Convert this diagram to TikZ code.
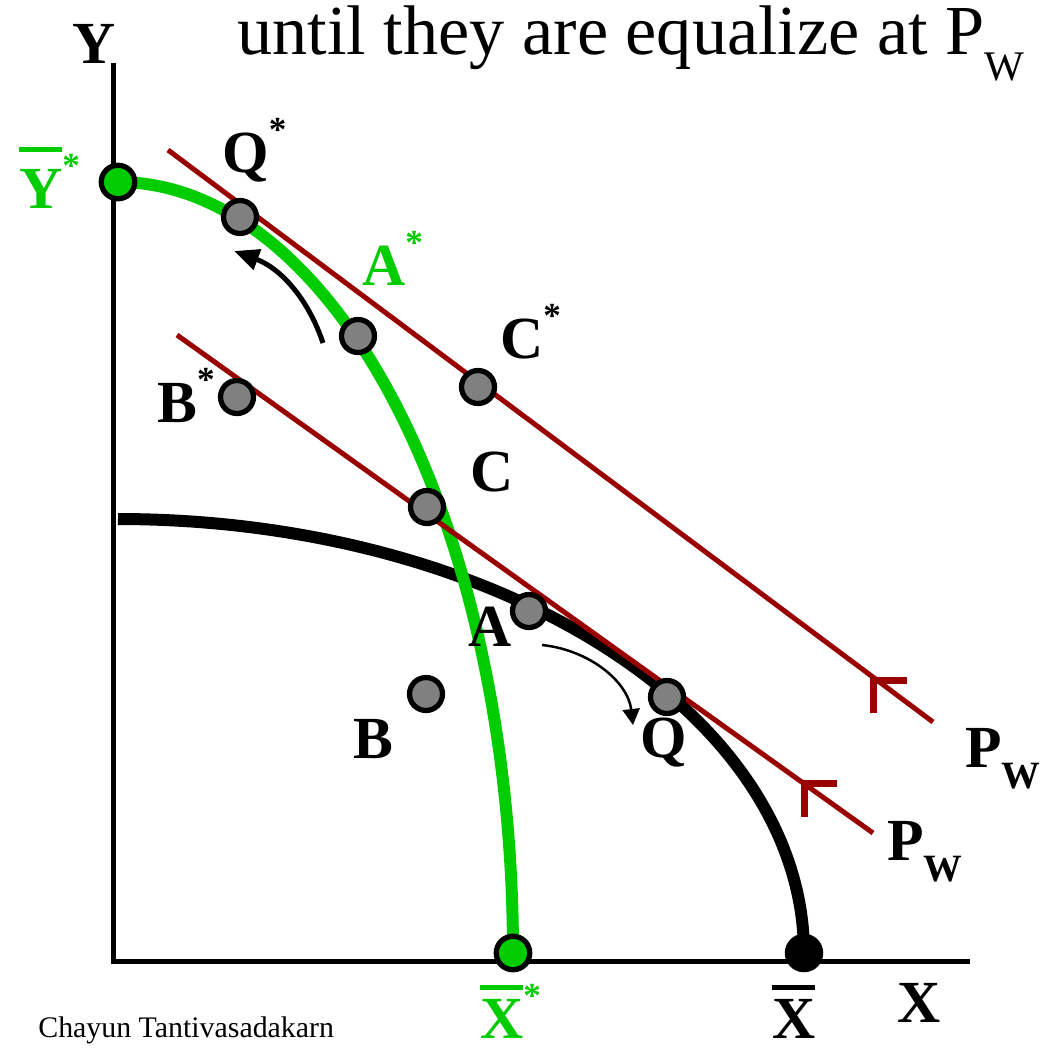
\documentclass[tikz,border=0pt]{standalone}
\usepackage{fontspec}
\setmainfont{Liberation Serif}
\usetikzlibrary{arrows.meta,calc}
\definecolor{ppgreen}{RGB}{0,204,0}
\definecolor{ppred}{RGB}{153,0,0}
\definecolor{ppgray}{RGB}{128,128,128}
\newcommand\ovl[2]{\vbox{\hrule height 3pt\kern #1\hbox{#2}}}
\newcommand\stx{\raisebox{17.5pt}{\fontsize{20}{20}\selectfont\bfseries *}}
\newcommand\subw[1]{\raisebox{-12pt}{\fontsize{22}{22}\selectfont\bfseries #1}}
\tikzset{
  lab/.style={font=\fontsize{34}{34}\selectfont\bfseries, inner sep=0pt, anchor=base west},
  graydot/.style={circle, draw=black, line width=3pt, fill=ppgray, minimum size=0.66cm, inner sep=0pt},
  greendot/.style={graydot, fill=ppgreen, minimum size=0.67cm},
  blackdot/.style={circle, fill=black, minimum size=0.77cm, inner sep=0pt},
  axisline/.style={line width=0.1cm},
  redline/.style={draw=ppred, line width=0.1cm},
  redmark/.style={draw=ppred, line width=0.14cm, miter limit=10},
  ppf/.style={line width=0.24cm},
}
\begin{document}
\begin{tikzpicture}[x={(0.02cm,0)}, y={(0,-0.02cm)}]
\useasboundingbox (0,0) rectangle (1045,1049);
% axes
\coordinate (ytop) at (113,63);
\coordinate (orig) at (113,961);
\coordinate (xend) at (970,961);
\draw[axisline] (ytop) -- (orig) -- (xend);
% PPF curves
\draw[ppf, black] plot[domain=0:90, samples=90, smooth] ({118+686*cos(\x)},{953-434*sin(\x)});
\draw[ppf, ppgreen] plot[domain=0:90, samples=90, smooth] ({118+395*cos(\x)},{953-771*sin(\x)});
% price lines
\coordinate (r1a) at (168,150); \coordinate (r1b) at (933,722);
\coordinate (r2a) at (177,335); \coordinate (r2b) at (873,833);
\draw[redline] (r1a) -- (r1b);
\draw[redline] (r2a) -- (r2b);
\coordinate (m1) at (873.5,680.5);
\coordinate (m2) at (804,783.5);
\draw[redmark] ($(m1)+(33.5,0)$) -- (m1) -- ($(m1)+(0,32.5)$);
\draw[redmark] ($(m2)+(33,0)$) -- (m2) -- ($(m2)+(0,33.5)$);
% curved arrows
\coordinate (ua) at (323,343); \coordinate (ub) at (234,251);
\draw[line width=0.1cm, -{Triangle[length=0.5cm,width=0.42cm]}] (ua) .. controls (308,298) and (280,268) .. (ub);
\coordinate (la) at (542,645); \coordinate (lb) at (633,725);
\draw[line width=0.05cm, -{Triangle[length=0.32cm,width=0.34cm]}] (la) .. controls (590,650) and (628,682) .. (lb);
% dots
\node[greendot] (ystar) at (118,182) {};
\node[greendot] (xstar) at (513,953) {};
\node[blackdot] (xbar) at (804,953) {};
\node[graydot] (qs) at (240,217) {};
\node[graydot] (as) at (358,336) {};
\node[graydot] (bs) at (237,397) {};
\node[graydot] (cs) at (478,387) {};
\node[graydot] (c) at (427,507) {};
\node[graydot] (a) at (529,611) {};
\node[graydot] (q) at (667,697) {};
\node[graydot] (b) at (426,694) {};
% labels
\node[lab] (ylab) at (72,63) {Y};
\node[lab, text=ppgreen] (ystarlab) at (19,208) {\ovl{9.6pt}{Y}\stx};
\node[lab] (qslab) at (222,172) {Q\stx};
\node[lab, text=ppgreen] (aslab) at (362,285) {A\stx};
\node[lab] (cslab) at (500,358) {C\stx};
\node[lab] (bslab) at (157,422) {B\stx};
\node[lab] (clab) at (470,491) {C};
\node[lab] (alab) at (468,646) {A};
\node[lab] (qlab) at (640,757) {Q};
\node[lab] (blab) at (353,758) {B};
\node[lab] (pw1) at (965,767) {P\subw{W}};
\node[lab] (pw2) at (887,860) {P\subw{W}};
\node[lab] (xlab) at (897,1022) {X};
\node[lab, text=ppgreen] (xstarlab) at (480,1038) {\ovl{5.1pt}{X}\stx};
\node[lab] (xbarlab) at (772,1038) {\ovl{5.1pt}{X}};
\node[inner sep=0pt, anchor=base west, font=\fontsize{40}{40}\selectfont] (title) at (237,54)
  {until they are equalize at P\raisebox{-15pt}{\fontsize{24}{24}\selectfont W}};
\node[inner sep=0pt, anchor=base west, font=\fontsize{17}{17}\selectfont] (author) at (38,1037) {Chayun Tantivasadakarn};
\end{tikzpicture}
\end{document}
